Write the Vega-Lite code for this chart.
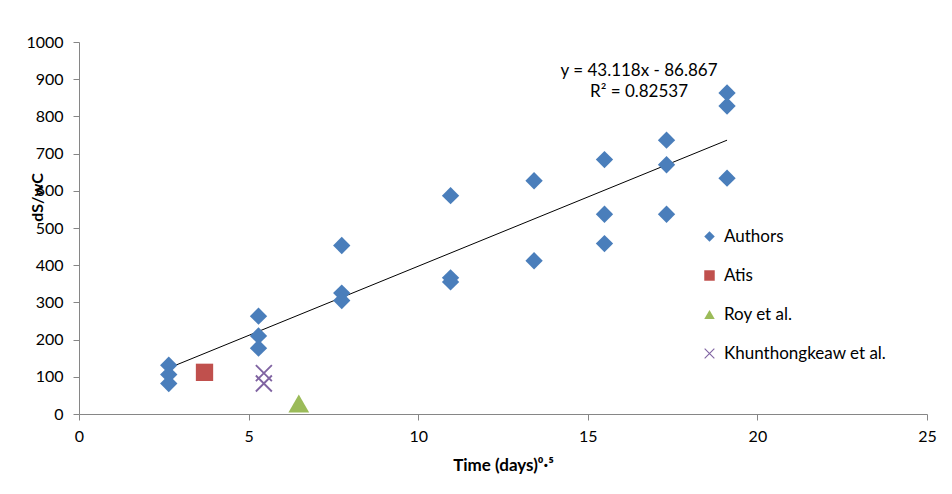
{
  "$schema": "https://vega.github.io/schema/vega-lite/v6.json",
  "autosize": "none",
  "padding": {"left": 79, "top": 42, "right": 25, "bottom": 80},
  "width": 848,
  "height": 372,
  "background": "white",
  "config": {
    "font": "Lato",
    "view": {"stroke": null},
    "axis": {
      "grid": false,
      "domainColor": "#868686",
      "tickColor": "#868686",
      "tickSize": 6,
      "labelFont": "Lato",
      "labelFontSize": 16,
      "labelColor": "#000000",
      "labelOverlap": false,
      "labelFlush": false,
      "titleFont": "Lato",
      "titleFontSize": 16,
      "titleFontWeight": "bold",
      "titleColor": "#000000"
    },
    "legend": {
      "symbolSize": 110,
      "labelFontSize": 17,
      "labelColor": "#000000",
      "labelLimit": 400,
      "symbolOpacity": 1
    }
  },
  "datasets": {
    "points": [
      {"series": "Authors", "x": 2.646, "y": 131},
      {"series": "Authors", "x": 2.646, "y": 106},
      {"series": "Authors", "x": 2.646, "y": 82},
      {"series": "Authors", "x": 5.292, "y": 263},
      {"series": "Authors", "x": 5.292, "y": 210},
      {"series": "Authors", "x": 5.292, "y": 177},
      {"series": "Authors", "x": 7.746, "y": 453},
      {"series": "Authors", "x": 7.746, "y": 325},
      {"series": "Authors", "x": 7.746, "y": 305},
      {"series": "Authors", "x": 10.954, "y": 587},
      {"series": "Authors", "x": 10.954, "y": 366},
      {"series": "Authors", "x": 10.954, "y": 355},
      {"series": "Authors", "x": 13.416, "y": 627},
      {"series": "Authors", "x": 13.416, "y": 412},
      {"series": "Authors", "x": 15.492, "y": 684},
      {"series": "Authors", "x": 15.492, "y": 537},
      {"series": "Authors", "x": 15.492, "y": 458},
      {"series": "Authors", "x": 17.321, "y": 736},
      {"series": "Authors", "x": 17.321, "y": 670},
      {"series": "Authors", "x": 17.321, "y": 537},
      {"series": "Authors", "x": 19.105, "y": 863},
      {"series": "Authors", "x": 19.105, "y": 828},
      {"series": "Authors", "x": 19.105, "y": 634},
      {"series": "Atis", "x": 3.7, "y": 112},
      {"series": "Roy et al.", "x": 6.48, "y": 28},
      {"series": "Khunthongkeaw et al.", "x": 5.45, "y": 110},
      {"series": "Khunthongkeaw et al.", "x": 5.45, "y": 82}
    ],
    "labels": [
      {"x": 16.51, "y": 922, "text": "y = 43.118x - 86.867"},
      {"x": 16.51, "y": 866, "text": "R² = 0.82537"}
    ]
  },
  "encoding": {
    "x": {
      "field": "x",
      "type": "quantitative",
      "scale": {"domain": [0, 25], "nice": false, "zero": false},
      "axis": {
        "values": [0, 5, 10, 15, 20, 25],
        "title": "Time (days)⁰·⁵",
        "titleFontSize": 17,
        "labelPadding": 8,
        "titlePadding": 13
      }
    },
    "y": {
      "field": "y",
      "type": "quantitative",
      "scale": {"domain": [0, 1000], "nice": false},
      "axis": {
        "values": [0, 100, 200, 300, 400, 500, 600, 700, 800, 900, 1000],
        "format": "d",
        "labelOverlap": false,
        "title": "dS/wC",
        "labelPadding": 10,
        "titleX": -42,
        "titleY": 155,
        "titleAngle": -90,
        "titleAlign": "center",
        "titleBaseline": "middle"
      }
    }
  },
  "layer": [
    {
      "data": {"name": "points"},
      "transform": [
        {"filter": "datum.series === 'Authors'"},
        {"regression": "y", "on": "x", "method": "linear"}
      ],
      "mark": {"type": "line", "color": "#000000", "strokeWidth": 1}
    },
    {
      "data": {"name": "points"},
      "transform": [{"filter": "datum.series !== 'Roy et al.'"}],
      "mark": {"type": "point", "filled": true, "opacity": 1, "size": 300},
      "encoding": {
        "color": {
          "field": "series",
          "type": "nominal",
          "scale": {
            "domain": ["Authors", "Atis", "Roy et al.", "Khunthongkeaw et al."],
            "range": ["#4A7EBB", "#C0504D", "#9BBB59", "#8064A2"]
          },
          "legend": {
            "title": null,
            "orient": "none",
            "legendX": 622,
            "legendY": 186,
            "rowPadding": 21,
            "labelOffset": 6
          }
        },
        "shape": {
          "field": "series",
          "type": "nominal",
          "scale": {
            "domain": ["Authors", "Atis", "Roy et al.", "Khunthongkeaw et al."],
            "range": ["diamond", "square", "triangle-up", "M-1,-0.85L-0.85,-1L1,0.85L0.85,1Z M1,-0.85L-0.85,1L-1,0.85L0.85,-1Z"]
          },
          "legend": null
        }
      }
    },
    {
      "data": {"name": "points"},
      "transform": [{"filter": "datum.series === 'Roy et al.'"}],
      "mark": {"type": "point", "filled": true, "opacity": 1, "size": 430},
      "encoding": {
        "color": {"field": "series", "type": "nominal"},
        "shape": {"field": "series", "type": "nominal"}
      }
    },
    {
      "data": {"name": "labels"},
      "mark": {"type": "text", "fontSize": 17, "font": "Lato", "color": "#000000", "align": "center", "baseline": "middle"},
      "encoding": {
        "text": {"field": "text"}
      }
    }
  ]
}
